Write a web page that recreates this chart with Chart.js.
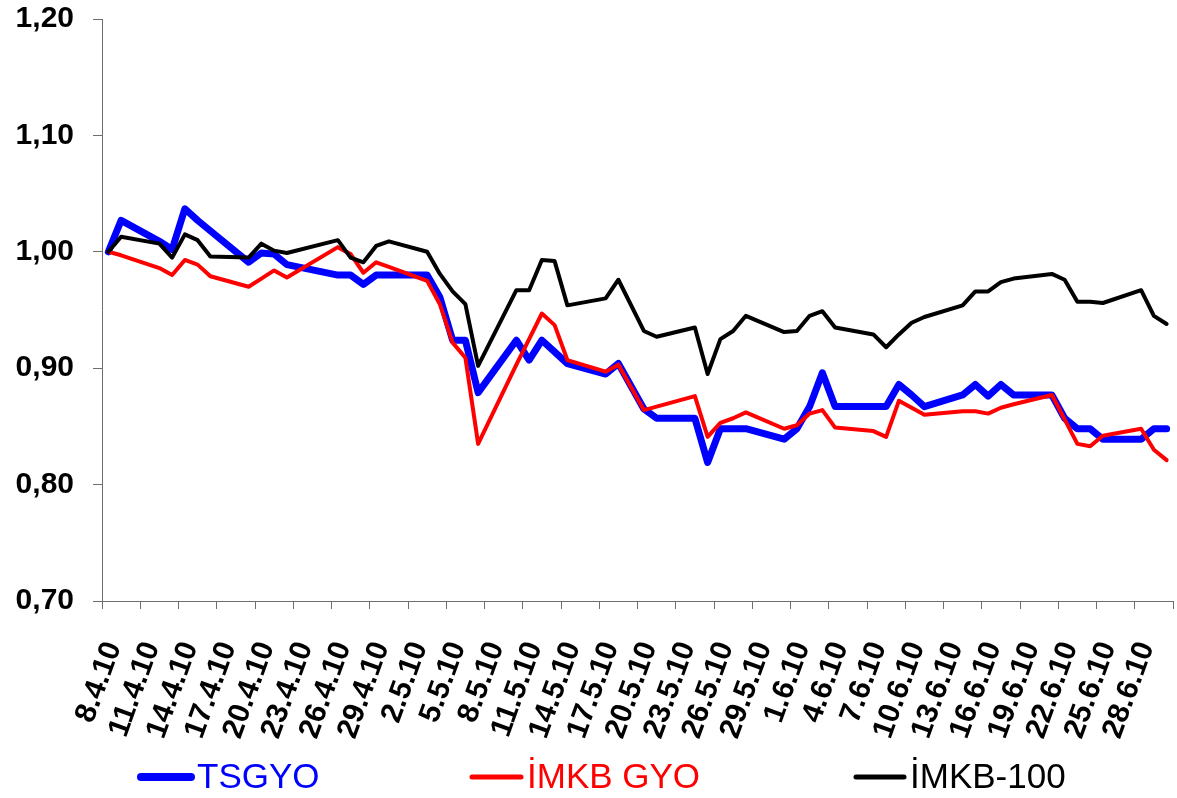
<!DOCTYPE html>
<html>
<head>
<meta charset="utf-8">
<script src="https://cdn.jsdelivr.net/npm/chart.js@4.4.1/dist/chart.umd.min.js"></script>
<style>
  html, body { margin: 0; padding: 0; background: #ffffff; }
  #wrap { width: 1177px; height: 798px; position: relative; }
</style>
</head>
<body>
<div id="wrap"><canvas id="chart" width="1177" height="798"></canvas></div>
<script>
// Trading days (d.m.yy), 8 April - 30 June 2010
const tradingDays = [
  '8.4.10','9.4.10','12.4.10','13.4.10','14.4.10','15.4.10','16.4.10','19.4.10','20.4.10','21.4.10',
  '22.4.10','26.4.10','27.4.10','28.4.10','29.4.10','30.4.10',
  '3.5.10','4.5.10','5.5.10','6.5.10','7.5.10','10.5.10','11.5.10','12.5.10','13.5.10','14.5.10',
  '17.5.10','18.5.10','20.5.10','21.5.10','24.5.10','25.5.10','26.5.10','27.5.10','28.5.10','31.5.10',
  '1.6.10','2.6.10','3.6.10','4.6.10','7.6.10','8.6.10','9.6.10','10.6.10','11.6.10','14.6.10',
  '15.6.10','16.6.10','17.6.10','18.6.10','21.6.10','22.6.10','23.6.10','24.6.10','25.6.10','28.6.10',
  '29.6.10','30.6.10'
];

// Relative performance (8.4.10 = 1,00)
const tsgyo = [
  1.000, 1.027, 1.009, 1.002, 1.037, 1.027, 1.018, 0.991, 0.999, 0.998,
  0.989, 0.980, 0.980, 0.972, 0.980, 0.980,
  0.980, 0.961, 0.924, 0.924, 0.879, 0.924, 0.907, 0.924, 0.914, 0.904,
  0.895, 0.904, 0.865, 0.857, 0.857, 0.819, 0.848, 0.848, 0.848, 0.839,
  0.848, 0.867, 0.896, 0.867, 0.867, 0.867, 0.886, 0.877, 0.867, 0.877,
  0.886, 0.876, 0.886, 0.877, 0.877, 0.857, 0.848, 0.848, 0.839, 0.839,
  0.848, 0.848
];
const imkbGyo = [
  1.000, 0.997, 0.986, 0.980, 0.993, 0.989, 0.979, 0.970, 0.977, 0.984,
  0.978, 1.004, 0.998, 0.982, 0.991, 0.987,
  0.975, 0.955, 0.922, 0.909, 0.835, 0.903, 0.925, 0.947, 0.937, 0.907,
  0.897, 0.903, 0.864, 0.867, 0.876, 0.841, 0.853, 0.857, 0.862, 0.848,
  0.851, 0.861, 0.864, 0.849, 0.846, 0.841, 0.872, 0.866, 0.860, 0.863,
  0.863, 0.861, 0.866, 0.869, 0.877, 0.856, 0.835, 0.833, 0.842, 0.848,
  0.830, 0.821
];
const imkb100 = [
  1.000, 1.013, 1.007, 0.995, 1.015, 1.010, 0.996, 0.995, 1.007, 1.001,
  0.999, 1.010, 0.995, 0.991, 1.005, 1.009,
  1.000, 0.981, 0.966, 0.955, 0.902, 0.967, 0.967, 0.993, 0.992, 0.954,
  0.960, 0.976, 0.932, 0.927, 0.935, 0.895, 0.925, 0.932, 0.945, 0.931,
  0.932, 0.945, 0.949, 0.935, 0.929, 0.918, 0.929, 0.939, 0.944, 0.954,
  0.966, 0.966, 0.974, 0.977, 0.981, 0.976, 0.957, 0.957, 0.956, 0.967,
  0.945, 0.938
];

const seriesNames = ['TSGYO', 'İMKB GYO', 'İMKB-100'];
const seriesColors = ['#0000ff', '#ff0000', '#000000'];

// Date labels shown under the axis (every third calendar day)
const xTickLabels = [
  '8.4.10','11.4.10','14.4.10','17.4.10','20.4.10','23.4.10','26.4.10','29.4.10','2.5.10','5.5.10',
  '8.5.10','11.5.10','14.5.10','17.5.10','20.5.10','23.5.10','26.5.10','29.5.10','1.6.10','4.6.10',
  '7.6.10','10.6.10','13.6.10','16.6.10','19.6.10','22.6.10','25.6.10','28.6.10'
];
const yMin = 0.70, yMax = 1.20, yStep = 0.10;

// Calendar-day axis: every day between first and last trading day, gaps filled with null
function parseDay(s) {
  const [d, m, y] = s.split('.').map(Number);
  return new Date(2000 + y, m - 1, d);
}
const calendarLabels = [];
for (let t = parseDay(tradingDays[0]); t <= parseDay(tradingDays[tradingDays.length - 1]); t.setDate(t.getDate() + 1)) {
  calendarLabels.push(t.getDate() + '.' + (t.getMonth() + 1) + '.' + String(t.getFullYear()).slice(2));
}
function toCalendar(values) {
  const byDay = new Map(tradingDays.map((d, i) => [d, values[i]]));
  return calendarLabels.map(l => (byDay.has(l) ? byDay.get(l) : null));
}

const axisColor = '#6e6e6e';
const FONT = 'Liberation Sans, Arial, sans-serif';

// Legend row under the chart: line sample followed by coloured name
const bottomLegend = {
  id: 'bottomLegend',
  afterDraw(chart) {
    const c = chart.ctx;
    const y = 777;
    const items = [
      { x0: 141, x1: 191, tx: 197, lw: 8 },
      { x0: 472, x1: 521, tx: 527, lw: 5 },
      { x0: 856, x1: 904, tx: 910, lw: 5 }
    ];
    c.save();
    chart.data.datasets.forEach((ds, i) => {
      const it = items[i];
      c.beginPath();
      c.lineCap = 'round';
      c.lineWidth = it.lw;
      c.strokeStyle = ds.borderColor;
      c.moveTo(it.x0, y);
      c.lineTo(it.x1, y);
      c.stroke();
      c.fillStyle = ds.borderColor;
      c.font = '35px ' + FONT;
      c.textBaseline = 'middle';
      c.textAlign = 'left';
      c.fillText(ds.label, it.tx, y + 1);
    });
    c.restore();
  }
};

new Chart(document.getElementById('chart'), {
  type: 'line',
  data: {
    labels: calendarLabels,
    datasets: [
      { label: seriesNames[0], data: toCalendar(tsgyo), borderColor: seriesColors[0], borderWidth: 7, order: 3 },
      { label: seriesNames[1], data: toCalendar(imkbGyo), borderColor: seriesColors[1], borderWidth: 4, order: 2 },
      { label: seriesNames[2], data: toCalendar(imkb100), borderColor: seriesColors[2], borderWidth: 4, order: 1 }
    ]
  },
  options: {
    responsive: false,
    animation: false,
    devicePixelRatio: 1,
    spanGaps: true,
    elements: {
      point: { radius: 0, hoverRadius: 0 },
      line: { tension: 0, fill: false, borderJoinStyle: 'round', borderCapStyle: 'round' }
    },
    layout: { padding: { left: 0, right: 4, top: 19, bottom: 0 } },
    plugins: { legend: { display: false }, tooltip: { enabled: false } },
    scales: {
      x: {
        type: 'category',
        offset: true,
        grid: {
          display: true,
          offset: true,
          drawOnChartArea: false,
          drawTicks: true,
          tickLength: 8,
          lineWidth: 1,
          color: (ctx) => (ctx.index === undefined || ctx.index % 3 === 0) ? axisColor : 'rgba(0,0,0,0)'
        },
        border: { display: true, color: axisColor, width: 1 },
        ticks: {
          autoSkip: false,
          minRotation: 70,
          maxRotation: 70,
          padding: 28,
          labelOffset: 5,
          color: '#000000',
          font: { family: FONT, size: 30, weight: 'bold' },
          callback: function (value) {
            const l = this.getLabelForValue(value);
            return xTickLabels.includes(l) ? l : '';
          }
        },
        afterFit: (s) => { s.height = 197; s.paddingLeft = 0; s.paddingRight = 0; }
      },
      y: {
        min: yMin,
        max: yMax,
        grid: { display: true, drawOnChartArea: false, drawTicks: true, tickLength: 9, color: axisColor },
        border: { display: true, color: axisColor, width: 1 },
        ticks: {
          stepSize: yStep,
          padding: 19,
          color: '#000000',
          font: { family: FONT, size: 30, weight: 'bold' },
          callback: (v) => Number(v).toFixed(2).replace('.', ',')
        },
        afterFit: (s) => { s.width = 102; s.paddingTop = 0; s.paddingBottom = 0; }
      }
    }
  },
  plugins: [bottomLegend]
});
</script>
</body>
</html>
